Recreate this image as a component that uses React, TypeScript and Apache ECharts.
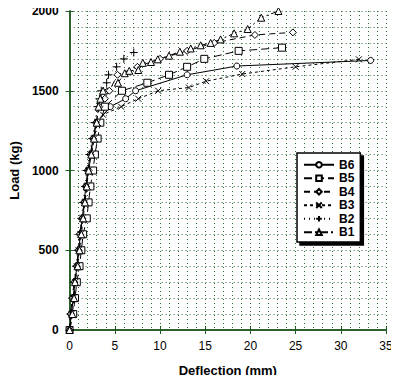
import React, { useEffect, useRef } from "react";
import * as echarts from "echarts";

const seriesNames = ["B6", "B5", "B4", "B3", "B2", "B1"];

const b6X = [0, 0.2, 0.4, 0.6, 0.8, 1.0, 1.2, 1.4, 1.6, 1.8, 2.0, 2.3, 2.6, 3.0, 4.5, 6.2, 7.3, 13.0, 18.5, 33.3];
const b6Y = [0, 100, 200, 300, 400, 500, 600, 700, 800, 900, 1000, 1100, 1200, 1300, 1400, 1450, 1500, 1600, 1655, 1690];

const b5X = [0, 0.4, 0.6, 0.8, 1.1, 1.3, 1.5, 1.9, 2.1, 2.3, 2.6, 2.8, 3.1, 3.4, 3.9, 5.8, 8.6, 11.0, 13.0, 14.9, 18.7, 23.5];
const b5Y = [0, 100, 200, 300, 400, 500, 600, 700, 800, 900, 1000, 1100, 1200, 1300, 1400, 1500, 1550, 1600, 1650, 1700, 1750, 1770];

const b4X = [0, 0.1, 0.3, 0.5, 0.8, 1.0, 1.1, 1.4, 1.6, 1.8, 2.1, 2.3, 2.6, 2.9, 3.3, 3.9, 4.4, 5.3, 7.5, 10.0, 13.0, 16.0, 20.5, 24.7];
const b4Y = [0, 100, 200, 300, 400, 500, 600, 700, 800, 900, 1000, 1100, 1200, 1300, 1400, 1450, 1500, 1600, 1650, 1700, 1750, 1800, 1850, 1866];

const b3X = [0, 0.2, 0.4, 0.6, 0.8, 1.0, 1.2, 1.4, 1.7, 1.9, 2.1, 2.4, 2.7, 3.1, 3.7, 5.7, 7.6, 9.8, 13.2, 15.1, 19.1, 25.0, 32.0];
const b3Y = [0, 100, 200, 300, 400, 500, 600, 700, 800, 900, 1000, 1100, 1200, 1300, 1350, 1400, 1450, 1500, 1520, 1560, 1605, 1650, 1697];

const b2X = [0, 0.1, 0.3, 0.5, 0.7, 0.9, 1.1, 1.3, 1.5, 1.7, 1.9, 2.2, 2.5, 2.8, 3.1, 3.3, 3.5, 4.1, 4.3, 5.2, 6.0, 7.1];
const b2Y = [0, 100, 200, 300, 400, 500, 600, 700, 800, 900, 1000, 1100, 1200, 1300, 1400, 1450, 1500, 1550, 1600, 1650, 1700, 1740];

const b1X = [0, 0.3, 0.5, 0.6, 0.9, 1.1, 1.3, 1.5, 1.7, 1.9, 2.1, 2.4, 2.7, 3.0, 3.2, 3.4, 3.7, 5.35, 6.1, 6.6, 7.6, 8.1, 9.0, 9.75, 11.0, 12.2, 13.4, 14.5, 15.6, 16.7, 18.2, 19.7, 21.2, 23.1];
const b1Y = [0, 100, 200, 300, 400, 500, 600, 700, 800, 900, 1000, 1100, 1200, 1300, 1400, 1450, 1500, 1550, 1610, 1625, 1630, 1675, 1680, 1697, 1720, 1745, 1765, 1785, 1800, 1822, 1860, 1887, 1958, 2000];

const xTicks = [0, 5, 10, 15, 20, 25, 30, 35];
const yTicks = [0, 500, 1000, 1500, 2000];

const GREEN = "#1f5a1f";
const DOT = "#2d6a2d";
const FONT = "'Liberation Sans', Arial, sans-serif";

function zip(xs: number[], ys: number[]) {
  return xs.map((x, i) => [x, ys[i]]);
}

export default function App() {
  const ref = useRef<HTMLDivElement>(null);
  useEffect(() => {
    if (!ref.current) return;
    const chart = echarts.init(ref.current, undefined, { renderer: "svg" });

    const mk = (
      name: string,
      xs: number[],
      ys: number[],
      symbol: string,
      size: number,
      dash: any
    ) => ({
      name,
      type: "line",
      data: zip(xs, ys),
      symbol,
      symbolSize: size,
      showAllSymbol: true,
      lineStyle: { color: "#000", width: 1, type: dash },
      itemStyle: { color: "#fff", borderColor: "#000", borderWidth: 1 },
      emphasis: { disabled: true },
      z: 3,
    });

    const xCommon = { type: "value", min: 0, max: 35, interval: 5 };
    const yCommon = { type: "value", min: 0, max: 2000, interval: 500 };

    chart.setOption({
      animation: false,
      backgroundColor: "#fff",
      grid: { left: 68, right: 13, top: 11, bottom: 53, containLabel: false },
      legend: {
        data: seriesNames,
        orient: "vertical",
        left: 297,
        top: 153,
        itemWidth: 30,
        itemHeight: 7,
        itemGap: 0,
        padding: [5, 6, 3, 6],
        backgroundColor: "#fff",
        borderColor: "#000",
        borderWidth: 1.5,
        borderRadius: 0,
        shadowColor: "#000",
        shadowBlur: 0.01,
        shadowOffsetX: 3,
        shadowOffsetY: 3,
        textStyle: {
          fontFamily: FONT,
          fontSize: 12,
          fontWeight: "bold",
          color: "#000",
          lineHeight: 13.5,
        },
      },
      xAxis: [
        {
          ...xCommon,
          position: "bottom",
          name: "Deflection (mm)",
          nameLocation: "middle",
          nameGap: 34,
          nameTextStyle: { fontFamily: FONT, fontSize: 13, fontWeight: "bold", color: "#000" },
          axisLine: { show: true, lineStyle: { color: GREEN, width: 1.5 } },
          axisTick: { show: true, inside: true, length: 4, lineStyle: { color: GREEN } },
          axisLabel: {
            margin: 10,
            fontFamily: FONT,
            fontSize: 12,
            color: "#000",
            formatter: (v: number) => (xTicks.includes(v) ? String(v) : ""),
          },
          splitLine: { show: true, lineStyle: { color: DOT, type: [1, 3], width: 1 } },
          minorTick: { show: false, splitNumber: 5 },
          minorSplitLine: { show: true, lineStyle: { color: DOT, type: [1, 3], width: 1 } },
        },
        {
          ...xCommon,
          position: "top",
          axisLine: { show: true, lineStyle: { color: GREEN, width: 1.5 } },
          axisTick: { show: true, inside: true, length: 4, lineStyle: { color: GREEN } },
          axisLabel: { show: false },
          splitLine: { show: false },
        },
      ],
      yAxis: [
        {
          ...yCommon,
          position: "left",
          name: "Load (kg)",
          nameLocation: "middle",
          nameGap: 46,
          nameTextStyle: { fontFamily: FONT, fontSize: 13, fontWeight: "bold", color: "#000" },
          axisLine: { show: true, lineStyle: { color: GREEN, width: 1.5 } },
          axisTick: { show: true, inside: true, length: 4, lineStyle: { color: GREEN } },
          axisLabel: {
            margin: 11,
            fontFamily: FONT,
            fontSize: 12,
            fontWeight: "bold",
            color: "#000",
            formatter: (v: number) => (yTicks.includes(v) ? String(v) : ""),
          },
          splitLine: { show: true, lineStyle: { color: DOT, type: [1, 3], width: 1 } },
          minorTick: { show: false, splitNumber: 5 },
          minorSplitLine: { show: true, lineStyle: { color: DOT, type: [1, 3], width: 1 } },
        },
        {
          ...yCommon,
          position: "right",
          axisLine: { show: true, lineStyle: { color: GREEN, width: 1.5 } },
          axisTick: { show: true, inside: true, length: 4, lineStyle: { color: GREEN } },
          axisLabel: { show: false },
          splitLine: { show: false },
        },
      ],
      series: [
        mk("B6", b6X, b6Y, "circle", 6, "solid"),
        mk("B5", b5X, b5Y, "rect", 7, [8, 4]),
        mk("B4", b4X, b4Y, "diamond", 7, [6, 4]),
        mk("B3", b3X, b3Y, "path://M0,0L10,10M10,0L0,10", 6, [3, 3]),
        mk("B2", b2X, b2Y, "path://M5,0L5,10M0,5L10,5", 8, [1, 4]),
        mk("B1", b1X, b1Y, "triangle", 7, [8, 3, 2, 3]),
      ],
    });
    return () => chart.dispose();
  }, []);
  return <div ref={ref} style={{ width: 399, height: 383, margin: "-8px" }} />;
}
